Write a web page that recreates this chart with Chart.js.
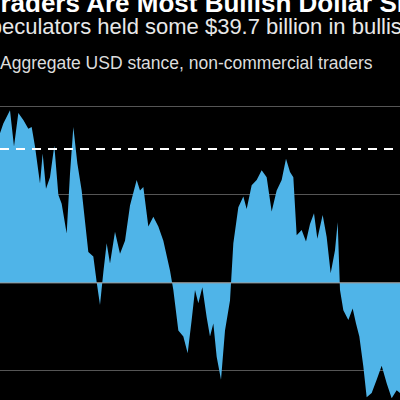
<!DOCTYPE html>
<html>
<head>
<meta charset="utf-8">
<script src="https://cdn.jsdelivr.net/npm/chart.js@4"></script>
<style>
  body { margin: 0; background: #000; width: 400px; height: 400px; overflow: hidden; position: relative; font-family: "Liberation Sans", Arial, sans-serif; color: #fff; }
  .t { position: absolute; white-space: nowrap; }
  #title { left: -14px; top: -12px; font-size: 26px; font-weight: bold; }
  #sub { left: -25px; top: 14px; font-size: 22px; color: #e8e8e8; }
  #lab { left: 0px; top: 53px; font-size: 17.5px; color: #ddd; }
  #wrap { position: absolute; left: 0; top: 98px; width: 400px; height: 302px; }
</style>
</head>
<body>
<div class="t" id="title">Traders Are Most Bullish Dollar Since</div>
<div class="t" id="sub">Speculators held some $39.7 billion in bullish</div>
<div class="t" id="lab">Aggregate USD stance, non-commercial traders</div>
<div id="wrap"><canvas id="c"></canvas></div>
<script>
const xs = [0,10,30,42,55,70,85,95,105,120,128,138,150,163,175,185,200,210,220,232,245,265,280,290,300,310,320,330,345,360,375,390,410,420,430,445,460,475,490,510,520,535,550,563,575,585,595,607,620,630,640,650,663,675,690,700,715,730,740,755,770,785,800,815,830,845,858,870,880,890,905,918,930,942,952,968,980,992,1005,1013,1020,1030,1045,1058,1068,1078,1090,1100,1115,1130,1145,1160,1175,1190,1200];
const stance = [17,18.1,19.6,15.5,19.3,18.5,17.5,17.7,15.5,11.3,14.7,10.7,12,15.6,10,9,5.6,12.4,17.7,13.6,10.5,3.5,3,0.1,-2.5,1.2,4.5,2.2,5.8,3.3,4.8,8.8,11.7,10.5,10.9,6.4,7.5,6.4,4.8,1.4,-0.8,-5.4,-6.1,-8,-4.2,-0.8,-2.3,-0.5,-3.9,-6.1,-4.6,-8.4,-11,-5.4,-2,4.5,8.6,9.8,8.4,11.1,11.7,12.8,12,8.1,10.5,11.7,14.1,12.6,12,5.4,6,4.7,6.7,7.9,5,7.7,5.2,1.1,3.7,6.9,-0.8,-3.1,-4.2,-2.9,-4.6,-6.1,-9.5,-13,-12.5,-11,-9.4,-11.4,-13.1,-12.2,-12.5];
const gridLines = [-10, 0, 10, 20];
const dashedLevel = 15.2;

const overlay = {
  id: 'overlay',
  afterDatasetsDraw(ch) {
    const {ctx, chartArea: a, scales: {y}} = ch;
    ctx.save();
    let z = y.getPixelForValue(0);
    ctx.strokeStyle = '#9a9a9a'; ctx.lineWidth = 1;
    ctx.beginPath(); ctx.moveTo(a.left, z); ctx.lineTo(a.right, z); ctx.stroke();
    let d = y.getPixelForValue(dashedLevel);
    ctx.strokeStyle = '#fff'; ctx.lineWidth = 2; ctx.setLineDash([9, 7]);
    ctx.beginPath(); ctx.moveTo(a.left, d); ctx.lineTo(a.right, d); ctx.stroke();
    ctx.restore();
  }
};

new Chart(document.getElementById('c'), {
  type: 'line',
  data: {
    datasets: [{
      data: xs.map((x, i) => ({x: x, y: stance[i]})),
      fill: 'origin', backgroundColor: '#4fb4e8', borderWidth: 0, pointRadius: 0, tension: 0
    }]
  },
  options: {
    responsive: true, maintainAspectRatio: false, animation: false,
    layout: {padding: 0},
    plugins: {legend: {display: false}, tooltip: {enabled: false}},
    scales: {
      x: {type: 'linear', min: 0, max: 1200, display: false},
      y: {
        min: -13.3, max: 21,
        afterBuildTicks: s => { s.ticks = gridLines.map(v => ({value: v})); },
        ticks: {display: false},
        border: {display: false},
        grid: {color: '#555', lineWidth: 1, drawTicks: false}
      }
    }
  },
  plugins: [overlay]
});
</script>
</body>
</html>
